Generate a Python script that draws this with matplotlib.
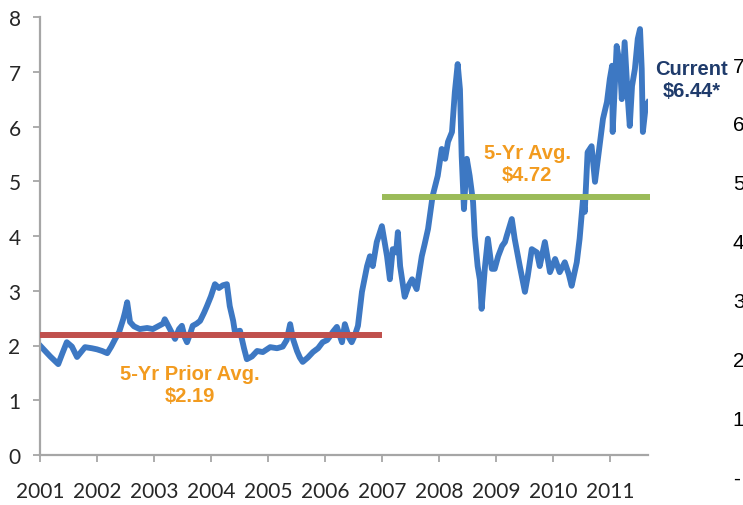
import matplotlib
matplotlib.use("Agg")
import matplotlib.pyplot as plt

# Weekly price path, decimal years and $/bu
years = [
    2001.00, 2001.09, 2001.18, 2001.26, 2001.32, 2001.39, 2001.47, 2001.56, 2001.65, 2001.72,
    2001.79, 2001.91, 2002.00, 2002.09, 2002.18, 2002.25, 2002.32, 2002.39, 2002.46, 2002.49,
    2002.53, 2002.58, 2002.65, 2002.75, 2002.88, 2002.98, 2003.07, 2003.16, 2003.19, 2003.28,
    2003.37, 2003.44, 2003.49, 2003.54, 2003.58, 2003.63, 2003.68, 2003.75, 2003.81, 2003.88,
    2003.93, 2004.00, 2004.07, 2004.14, 2004.21, 2004.28, 2004.33, 2004.39, 2004.42, 2004.51,
    2004.58, 2004.63, 2004.72, 2004.81, 2004.91, 2005.04, 2005.16, 2005.26, 2005.33, 2005.39,
    2005.44, 2005.51, 2005.56, 2005.61, 2005.70, 2005.79, 2005.88, 2005.96, 2006.04, 2006.09,
    2006.14, 2006.21, 2006.30, 2006.35, 2006.42, 2006.47, 2006.53, 2006.58, 2006.65, 2006.74,
    2006.79, 2006.84, 2006.91, 2007.00, 2007.09, 2007.14, 2007.19, 2007.25, 2007.28, 2007.32,
    2007.37, 2007.40, 2007.47, 2007.53, 2007.61, 2007.70, 2007.75, 2007.81, 2007.89, 2007.98,
    2008.05, 2008.11, 2008.16, 2008.23, 2008.28, 2008.33, 2008.37, 2008.40, 2008.44, 2008.49,
    2008.54, 2008.60, 2008.63, 2008.68, 2008.72, 2008.75, 2008.81, 2008.86, 2008.93, 2008.98,
    2009.04, 2009.11, 2009.16, 2009.19, 2009.28, 2009.33, 2009.42, 2009.51, 2009.56, 2009.63,
    2009.72, 2009.77, 2009.86, 2009.95, 2010.04, 2010.12, 2010.21, 2010.28, 2010.33, 2010.42,
    2010.47, 2010.53, 2010.56, 2010.61, 2010.68, 2010.74, 2010.82, 2010.88, 2010.95, 2011.00,
    2011.04, 2011.05, 2011.12, 2011.18, 2011.21, 2011.26, 2011.32, 2011.35, 2011.39, 2011.44,
    2011.49, 2011.53, 2011.56, 2011.58, 2011.63, 2011.67,
]
prices = [
    2.00, 1.90, 1.80, 1.72, 1.66, 1.85, 2.06, 1.98, 1.79, 1.88,
    1.97, 1.95, 1.93, 1.90, 1.86, 1.98, 2.12, 2.25, 2.48, 2.60,
    2.79, 2.43, 2.35, 2.30, 2.32, 2.30, 2.35, 2.40, 2.48, 2.30,
    2.12, 2.30, 2.36, 2.15, 2.06, 2.20, 2.36, 2.40, 2.45, 2.60,
    2.72, 2.90, 3.12, 3.05, 3.10, 3.12, 2.72, 2.45, 2.25, 2.27,
    1.95, 1.75, 1.80, 1.90, 1.88, 1.97, 1.95, 1.98, 2.10, 2.39,
    2.12, 1.90, 1.78, 1.70, 1.78, 1.88, 1.95, 2.06, 2.10, 2.17,
    2.25, 2.34, 2.06, 2.39, 2.15, 2.06, 2.20, 2.36, 2.98, 3.45,
    3.63, 3.45, 3.89, 4.18, 3.63, 3.21, 3.76, 3.70, 4.07, 3.45,
    3.10, 2.89, 3.10, 3.21, 3.03, 3.63, 3.85, 4.13, 4.73, 5.10,
    5.59, 5.41, 5.72, 5.90, 6.63, 7.14, 6.68, 5.46, 4.49, 5.41,
    5.10, 4.62, 4.00, 3.45, 3.20, 2.67, 3.45, 3.95, 3.40, 3.40,
    3.63, 3.82, 3.89, 4.00, 4.31, 3.95, 3.45, 2.98, 3.27, 3.76,
    3.70, 3.45, 3.89, 3.34, 3.58, 3.34, 3.52, 3.30, 3.09, 3.52,
    3.95, 4.68, 4.44, 5.53, 5.64, 4.99, 5.64, 6.14, 6.45, 6.87,
    7.11, 5.90, 7.47, 7.11, 6.50, 7.54, 6.45, 6.01, 6.74, 7.05,
    7.60, 7.78, 7.05, 5.90, 6.37, 6.44,
]

# Period averages
prior_span = [2001.0, 2007.0]
prior_avg = 2.19
recent_span = [2007.0, 2011.7]
recent_avg = 4.72
current_price = 6.44

year_ticks = list(range(2001, 2012))
left_ticks = list(range(0, 9))
right_ticks = list(range(0, 8))
right_labels = ["-"] + [str(v) for v in range(1, 8)]

BLUE = "#3d78c3"
RED = "#c0504d"
GREEN = "#9bbb59"
ORANGE = "#f29b1f"
NAVY = "#1f3b6b"
AXIS_GRAY = "#a6a6a6"
TEXT_DARK = "#262626"

tick_font = ["Lato", "DejaVu Sans"]
note_font = ["Liberation Sans", "DejaVu Sans"]

fig = plt.figure(figsize=(7.43, 5.06), dpi=100)
W, H = 743, 506

ax = fig.add_axes([40 / W, 50 / H, 608 / W, 438 / H])
ax.plot(years, prices, color=BLUE, lw=4.2, solid_joinstyle="round", zorder=2)
ax.plot(prior_span, [prior_avg] * 2, color=RED, lw=4.3, solid_capstyle="butt",
        zorder=3, clip_on=False)
ax.plot(recent_span, [recent_avg] * 2, color=GREEN, lw=4.3, solid_capstyle="butt",
        zorder=3, clip_on=False)

ax.set_xlim(2001.0, 2011.67)
ax.set_ylim(0, 8)
ax.set_xticks(year_ticks)
ax.set_xticklabels([str(y) for y in year_ticks])
ax.set_yticks(left_ticks)
ax.set_yticklabels([str(v) for v in left_ticks])

for side in ("top", "right"):
    ax.spines[side].set_visible(False)
for side in ("left", "bottom"):
    ax.spines[side].set_color(AXIS_GRAY)
    ax.spines[side].set_linewidth(1.6)
ax.tick_params(axis="both", direction="out", length=5, width=1.3, color=AXIS_GRAY,
               labelcolor=TEXT_DARK, labelsize=15)
ax.tick_params(axis="y", pad=9)
ax.tick_params(axis="x", pad=14)
for lbl in ax.get_xticklabels() + ax.get_yticklabels():
    lbl.set_family(tick_font)

ax.text(2003.63, 1.28, "5-Yr Prior Avg.\n$2.19", color=ORANGE, fontsize=14.5,
        fontweight="bold", family=note_font, ha="center", va="center",
        linespacing=1.2)
ax.text(2009.55, 5.33, "5-Yr Avg.\n$4.72", color=ORANGE, fontsize=14.5,
        fontweight="bold", family=note_font, ha="center", va="center",
        linespacing=1.2)
ax.text(2012.44, 6.85, "Current\n$6.44*", color=NAVY, fontsize=14.5,
        fontweight="bold", family=note_font, ha="center", va="center",
        linespacing=1.2, clip_on=False)

# Secondary value scale on the far right
ax2 = fig.add_axes([700 / W, 0.0, 30 / W, 0.9296])
ax2.set_ylim(-0.4927, 7.5)
ax2.set_xticks([])
ax2.yaxis.tick_right()
ax2.set_yticks(right_ticks)
ax2.set_yticklabels(right_labels)
ax2.tick_params(axis="y", length=0, pad=2, labelsize=15, labelcolor="black")
for lbl in ax2.get_yticklabels():
    lbl.set_family(note_font)
for s in ax2.spines.values():
    s.set_visible(False)
ax2.patch.set_alpha(0)

fig.savefig("out.png", dpi=100)
